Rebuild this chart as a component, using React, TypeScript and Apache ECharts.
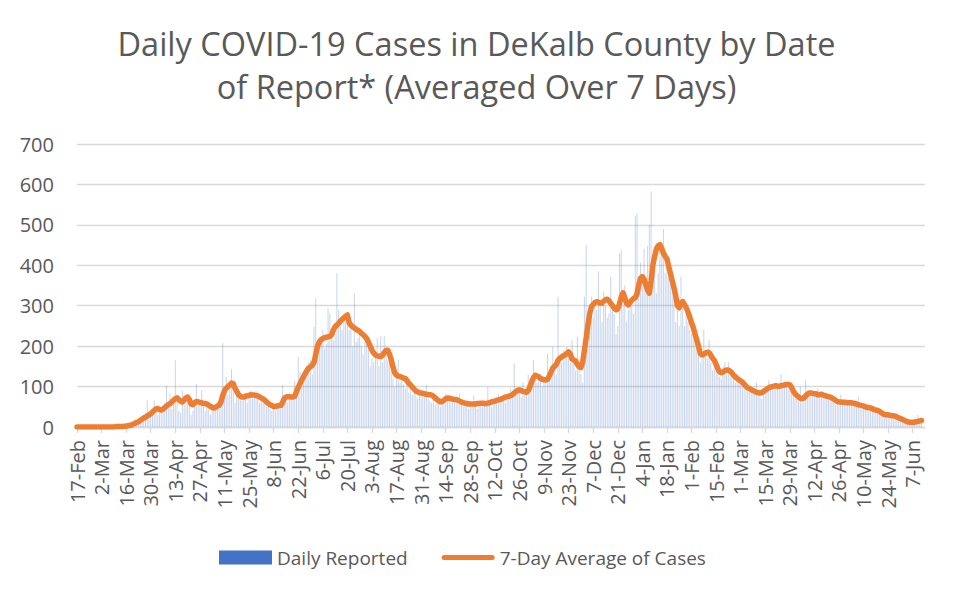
import React, { useEffect, useRef } from "react";
import * as echarts from "echarts";

const START_DATE = "2020-02-17";
const CATEGORY_COUNT = 484;
const MONTHS = ["Jan", "Feb", "Mar", "Apr", "May", "Jun", "Jul", "Aug", "Sep", "Oct", "Nov", "Dec"];
const Y_TICKS = [0, 100, 200, 300, 400, 500, 600, 700];

const SERIES_DAILY = "Daily Reported";
const SERIES_AVG = "7-Day Average of Cases";

// Daily reported cases, 17-Feb-2020 onward (one value per day)
const DAILY_REPORTED = [
  0, 0, 0, 0, 0, 0, 0,
  0, 0, 0, 0, 0, 0, 0,
  0, 0, 0, 0, 0, 0, 0,
  0, 1, 0, 2, 1, 0, 3,
  2, 5, 4, 8, 10, 12, 15,
  18, 20, 14, 30, 35, 66, 28,
  40, 45, 66, 52, 30, 35, 44,
  48, 60, 102, 58, 81, 45, 60,
  165, 70, 40, 35, 90, 55, 60,
  75, 60, 30, 40, 65, 107, 70,
  55, 91, 50, 40, 62, 45, 30,
  40, 55, 50, 60, 45, 62, 208,
  90, 125, 80, 95, 143, 100, 60,
  75, 80, 70, 65, 78, 85, 60,
  75, 91, 70, 85, 90, 80, 60,
  70, 65, 75, 50, 55, 45, 40,
  55, 40, 50, 60, 45, 104, 80,
  70, 60, 85, 75, 70, 115, 90,
  174, 137, 100, 120, 130, 150, 160,
  165, 130, 248, 318, 190, 200, 210,
  240, 195, 205, 294, 281, 230, 215,
  230, 380, 290, 250, 240, 270, 260,
  255, 240, 260, 200, 331, 210, 220,
  240, 200, 180, 230, 215, 220, 150,
  170, 160, 180, 220, 150, 225, 160,
  225, 200, 165, 190, 140, 120, 100,
  130, 166, 110, 120, 105, 95, 110,
  85, 100, 80, 95, 90, 70, 80,
  75, 85, 90, 104, 70, 65, 60,
  70, 55, 60, 65, 50, 60, 70,
  83, 70, 65, 60, 75, 65, 70,
  60, 83, 55, 50, 60, 55, 45,
  50, 60, 78, 55, 45, 60, 55,
  50, 65, 60, 99, 55, 50, 65,
  60, 70, 83, 65, 70, 75, 60,
  70, 80, 95, 75, 157, 85, 90,
  95, 75, 110, 80, 85, 130, 100,
  110, 166, 120, 110, 130, 125, 100,
  110, 105, 182, 120, 140, 198, 150,
  130, 322, 170, 160, 190, 175, 198,
  180, 160, 215, 170, 140, 223, 150,
  130, 110, 322, 451, 200, 260, 322,
  270, 305, 290, 385, 310, 260, 335,
  300, 270, 280, 372, 290, 280, 230,
  250, 430, 438, 300, 350, 260, 290,
  300, 310, 280, 521, 529, 340, 407,
  360, 440, 330, 448, 500, 583, 380,
  400, 330, 380, 440, 430, 490, 380,
  430, 370, 370, 350, 345, 260, 290,
  250, 372, 300, 250, 290, 260, 240,
  230, 240, 230, 210, 180, 160, 170,
  240, 180, 170, 215, 160, 140, 165,
  140, 130, 125, 120, 150, 160, 130,
  160, 140, 130, 120, 110, 125, 110,
  115, 110, 110, 95, 90, 95, 85,
  80, 90, 110, 85, 80, 70, 95,
  90, 100, 115, 95, 100, 105, 110,
  100, 95, 131, 100, 110, 105, 95,
  110, 110, 80, 70, 75, 65, 100,
  60, 70, 117, 80, 85, 90, 75,
  85, 80, 95, 75, 80, 70, 75,
  70, 75, 80, 65, 60, 55, 65,
  55, 80, 60, 65, 55, 60, 65,
  60, 55, 65, 50, 75, 50, 45,
  50, 45, 55, 40, 45, 50, 55,
  40, 35, 45, 30, 35, 25, 30,
  30, 25, 35, 30, 30, 20, 25,
  20, 15, 20, 10, 12, 15, 10,
  12, 15, 10, 30, 15, 18,
];

// 7-day average of cases (one value per day)
const AVG_7DAY = [
  0, 0, 0, 0, 0, 0, 0,
  0, 0, 0, 0, 0, 0, 0,
  0, 0, 0, 0, 0, 0, 0,
  0, 1, 1, 1, 1, 1, 2,
  2, 3, 4, 5, 7, 9, 11,
  13, 16, 19, 22, 24, 27, 30,
  33, 37, 41, 45, 46, 43, 42,
  44, 48, 52, 55, 58, 62, 66,
  70, 72, 68, 64, 62, 66, 72,
  74, 68, 57, 55, 60, 63, 62,
  61, 60, 58, 58, 57, 54, 51,
  48, 47, 49, 52, 54, 62, 78,
  90, 96, 100, 104, 109, 107, 96,
  88, 80, 76, 74, 74, 76, 77,
  78, 80, 79, 79, 78, 77, 74,
  72, 69, 66, 62, 58, 55, 53,
  51, 51, 52, 53, 53, 60, 70,
  74, 75, 75, 74, 74, 76, 88,
  98, 107, 116, 124, 132, 140, 146,
  149, 153, 160, 180, 200, 210, 216,
  219, 221, 222, 223, 224, 228, 240,
  248, 252, 256, 262, 266, 270, 274,
  277, 258, 252, 248, 245, 242, 239,
  236, 232, 228, 224, 219, 210, 200,
  190, 183, 178, 176, 175, 174, 178,
  184, 189, 190, 180, 166, 148, 134,
  128, 126, 125, 123, 121, 120, 114,
  108, 104, 99, 94, 89, 87, 85,
  84, 83, 82, 81, 80, 80, 79,
  76, 72, 68, 65, 62, 63, 66,
  70, 72, 71, 70, 69, 68, 68,
  66, 64, 62, 60, 59, 58, 57,
  57, 57, 57, 57, 58, 58, 59,
  59, 58, 58, 59, 60, 62, 63,
  64, 66, 67, 68, 70, 72, 74,
  75, 76, 78, 80, 84, 88, 91,
  92, 90, 88, 87, 86, 90, 100,
  112, 122, 128, 126, 124, 120, 118,
  117, 116, 118, 126, 136, 146, 150,
  155, 165, 170, 173, 176, 178, 182,
  186, 180, 168, 166, 163, 155, 149,
  147, 160, 190, 219, 252, 280, 298,
  303, 308, 310, 309, 306, 306, 311,
  315, 316, 312, 306, 300, 294, 290,
  292, 305, 322, 332, 320, 306, 302,
  308, 314, 318, 320, 330, 352, 368,
  372, 366, 352, 338, 331, 362, 400,
  422, 440, 448, 451, 442, 430, 422,
  416, 398, 380, 362, 345, 325, 300,
  295, 308, 310, 303, 295, 285, 272,
  258, 246, 230, 215, 200, 182, 178,
  180, 183, 185, 184, 178, 170, 165,
  155, 144, 136, 134, 136, 139, 141,
  141, 138, 134, 128, 124, 120, 117,
  114, 111, 106, 101, 97, 95, 93,
  90, 88, 86, 85, 84, 85, 88,
  91, 94, 97, 99, 100, 101, 102,
  101, 101, 102, 103, 104, 105, 105,
  104, 98, 89, 82, 78, 74, 71,
  70, 72, 77, 81, 84, 84, 83,
  82, 82, 80, 80, 81, 79, 78,
  76, 75, 74, 72, 69, 66, 63,
  62, 62, 61, 61, 61, 60, 60,
  60, 59, 58, 57, 55, 54, 53,
  52, 50, 48, 48, 47, 45, 43,
  42, 41, 39, 36, 33, 31, 30,
  30, 29, 28, 28, 27, 25, 23,
  21, 19, 17, 15, 13, 12, 12,
  12, 12, 13, 14, 15, 16,
];

function buildCategories(): string[] {
  const out: string[] = [];
  const start = new Date(START_DATE + "T00:00:00Z").getTime();
  for (let i = 0; i < CATEGORY_COUNT; i++) {
    const d = new Date(start + i * 86400000);
    out.push(`${d.getUTCDate()}-${MONTHS[d.getUTCMonth()]}`);
  }
  return out;
}

const FONT = "'Open Sans', sans-serif";
const TEXT_COLOR = "#595959";
const GRID_COLOR = "#d9d9d9";
const LINE_ICON = "path://M2.5,0 L50.5,0 A2.5,2.5 0 0 1 50.5,5 L2.5,5 A2.5,2.5 0 0 1 2.5,0 Z";

export default function App() {
  const ref = useRef<HTMLDivElement>(null);

  useEffect(() => {
    if (!ref.current) return;
    const chart = echarts.init(ref.current, undefined, { renderer: "svg" });
    const categories = buildCategories();
    chart.setOption({
      animation: false,
      backgroundColor: "#ffffff",
      textStyle: { fontFamily: FONT },
      title: {
        text: "Daily COVID-19 Cases in DeKalb County by Date\nof Report* (Averaged Over 7 Days)",
        left: "center",
        top: 17,
        textStyle: {
          fontFamily: FONT,
          fontSize: 32.5,
          lineHeight: 43,
          fontWeight: "normal",
          color: TEXT_COLOR,
        },
      },
      legend: {
        left: 214,
        top: 543,
        itemWidth: 53,
        itemHeight: 14,
        itemGap: 34,
        textStyle: { fontFamily: FONT, fontSize: 19, color: TEXT_COLOR },
        data: [
          { name: SERIES_DAILY, icon: "rect", itemStyle: { color: "#4472C4", opacity: 1 } },
          { name: SERIES_AVG, icon: LINE_ICON, itemStyle: { color: "#ED7D31" } },
        ],
      },
      grid: { left: 77, right: 28, top: 144, bottom: 169 },
      xAxis: {
        type: "category",
        data: categories,
        boundaryGap: false,
        axisLine: { show: true, lineStyle: { color: GRID_COLOR, width: 1.3 } },
        axisTick: {
          show: true,
          interval: 13,
          length: 6,
          lineStyle: { color: GRID_COLOR, width: 1.3 },
        },
        axisLabel: {
          interval: 13,
          rotate: 90,
          margin: 13,
          fontFamily: FONT,
          fontSize: 20,
          color: TEXT_COLOR,
        },
        splitLine: { show: false },
      },
      yAxis: {
        type: "value",
        min: Y_TICKS[0],
        max: Y_TICKS[Y_TICKS.length - 1],
        interval: 100,
        axisLine: { show: false },
        axisTick: { show: false },
        axisLabel: { margin: 23, fontFamily: FONT, fontSize: 20, color: TEXT_COLOR },
        splitLine: { lineStyle: { color: GRID_COLOR, width: 1.3 } },
      },
      series: [
        {
          name: SERIES_DAILY,
          type: "bar",
          data: DAILY_REPORTED,
          barWidth: 1,
          itemStyle: { color: "#4472C4", opacity: 0.3 },
          z: 2,
        },
        {
          name: SERIES_AVG,
          type: "line",
          data: AVG_7DAY,
          symbol: "none",
          smooth: false,
          lineStyle: { color: "#ED7D31", width: 5.5, cap: "round", join: "round" },
          itemStyle: { color: "#ED7D31" },
          z: 3,
        },
      ],
    });
    return () => chart.dispose();
  }, []);

  return (
    <div
      ref={ref}
      style={{ position: "fixed", left: 0, top: 0, width: 953, height: 596, background: "#fff" }}
    />
  );
}
